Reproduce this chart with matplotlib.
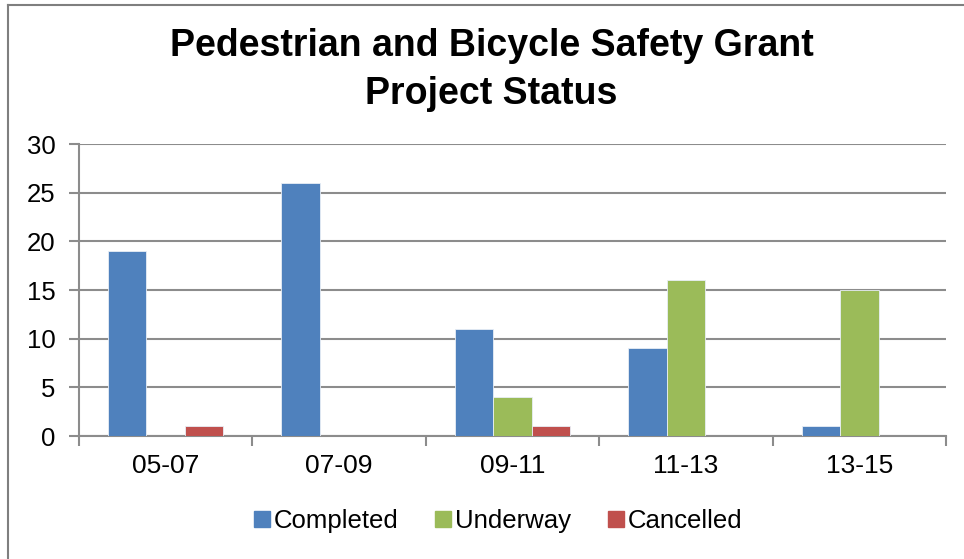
import numpy as np
import matplotlib.pyplot as plt
from matplotlib.lines import Line2D

periods = ['05-07', '07-09', '09-11', '11-13', '13-15']
completed = [19, 26, 11, 9, 1]
underway = [0, 0, 4, 16, 15]
cancelled = [1, 0, 1, 0, 0]
series = ['Completed', 'Underway', 'Cancelled']
colors = ['#4F81BD', '#9BBB59', '#C0504D']


def main():
    plt.rcParams['font.family'] = ['Liberation Sans', 'DejaVu Sans']
    fig = plt.figure(figsize=(9.64, 5.59), dpi=100)
    ax = fig.add_axes([79 / 964, 1 - 436 / 559, 867 / 964, 292 / 559])

    x = np.arange(len(periods))
    w = 0.222
    for k, (vals, c) in enumerate(zip([completed, underway, cancelled], colors)):
        ax.bar(x + (k - 1) * w, vals, width=w, color=c, label=series[k],
               edgecolor='#e8eef6', linewidth=0.6, zorder=3)

    ax.set_xlim(-0.5, len(periods) - 0.5)
    ax.set_ylim(0, 30)
    ax.set_yticks(range(0, 31, 5))
    ax.yaxis.grid(True, color='#8c8c8c', linewidth=1.5, zorder=0)
    for s in ['top', 'right']:
        ax.spines[s].set_visible(False)
    for s in ['left', 'bottom']:
        ax.spines[s].set_color('#8c8c8c')
        ax.spines[s].set_linewidth(1.5)
    ax.set_xticks(x)
    ax.set_xticklabels(periods)
    ax.set_xticks(np.arange(-0.5, len(periods)), minor=True)
    ax.tick_params(axis='x', which='major', length=0, labelsize=19, pad=13)
    ax.tick_params(axis='x', which='minor', length=7, width=1.5, color='#8c8c8c')
    ax.tick_params(axis='y', length=7, width=1.5, color='#8c8c8c', labelsize=18.5, pad=10)

    fig.text(0.510, 1 - 70 / 559, 'Pedestrian and Bicycle Safety Grant\nProject Status',
             ha='center', va='center', fontsize=27, fontweight='bold', linespacing=1.42)

    handles = [Line2D([], [], marker='s', linestyle='none', markersize=11,
                      markerfacecolor=c, markeredgecolor=c) for c in colors]
    fig.legend(handles, series, loc='center', bbox_to_anchor=(497 / 964, 1 - 521 / 559),
               ncol=3, frameon=False, fontsize=18.5, handletextpad=0.05,
               columnspacing=1.35, handlelength=0.8, borderpad=0)

    # outer chart frame
    fig.add_artist(Line2D([8 / 964, 8 / 964], [0, 1 - 5 / 559], color='#7f7f7f',
                          linewidth=1.5, transform=fig.transFigure))
    fig.add_artist(Line2D([8 / 964, 1], [1 - 5 / 559, 1 - 5 / 559], color='#7f7f7f',
                          linewidth=1.5, transform=fig.transFigure))

    fig.savefig('out.png', dpi=100)


if __name__ == '__main__':
    main()
